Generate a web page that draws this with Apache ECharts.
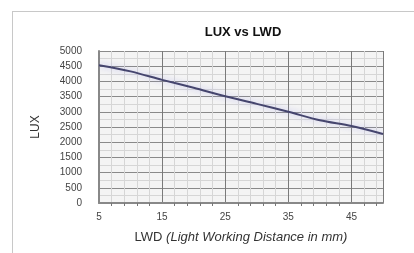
<!DOCTYPE html>
<html>
<head>
<meta charset="utf-8">
<script src="https://cdn.jsdelivr.net/npm/echarts@6/dist/echarts.min.js"></script>
<style>
  html, body { margin: 0; padding: 0; background: #fff; }
  #frame { position: absolute; left: 12px; top: 11px; width: 402px; height: 242px;
           border-top: 1px solid #c8c8c8; border-left: 1px solid #c8c8c8; }
  #main { position: absolute; left: 0; top: 0; width: 414px; height: 253px; }
</style>
</head>
<body>
<div id="frame"></div>
<div id="main"></div>
<script>
// LWD (mm) vs LUX
var lwd = [5, 10, 15, 20, 25, 30, 35, 40, 45, 50]
var lux = [4530, 4330, 4050, 3790, 3510, 3260, 3000, 2720, 2530, 2270]

var points = []
for (var i = 0; i < lwd.length; i++) {
  points.push([lwd[i], lux[i]])
}

var chart = echarts.init(document.getElementById('main'))
chart.setOption({
  animation: false,
  title: {
    text: 'LUX vs LWD',
    left: 238,
    textAlign: 'center',
    top: 21,
    textStyle: { fontFamily: 'Liberation Sans', fontSize: 13, fontWeight: 'bold', color: '#111' }
  },
  grid: {
    left: 99, right: 31, top: 51, bottom: 50,
    show: true, backgroundColor: '#f4f4f4', borderWidth: 0
  },
  xAxis: {
    type: 'value',
    min: 5, max: 50, interval: 10,
    name: '{a|LWD }{b|(Light Working Distance in mm)}',
    nameLocation: 'middle',
    nameGap: 28,
    nameTextStyle: {
      rich: {
        a: { fontFamily: 'Liberation Sans', fontSize: 13, color: '#333' },
        b: { fontFamily: 'Liberation Sans', fontSize: 13, fontStyle: 'italic', color: '#333' }
      }
    },
    axisLine: { show: true, lineStyle: { color: '#888', width: 2 } },
    axisTick: { show: false },
    minorTick: { show: true, splitNumber: 5, length: 3, lineStyle: { color: '#777' } },
    axisLabel: {
      showMaxLabel: false, margin: 9,
      fontFamily: 'Liberation Sans', fontSize: 10, color: '#444'
    },
    splitLine: { show: true, lineStyle: { color: '#7a7a7a', width: 1 } },
    minorSplitLine: { show: true, lineStyle: { color: '#d6d6d6', width: 1 } }
  },
  yAxis: {
    type: 'value',
    min: 0, max: 5000, interval: 500,
    name: 'LUX',
    nameLocation: 'middle',
    nameGap: 57,
    nameTextStyle: { fontFamily: 'Liberation Sans', fontSize: 12, color: '#333' },
    axisLine: { show: true, lineStyle: { color: '#888', width: 2 } },
    axisTick: { show: false },
    axisLabel: {
      margin: 17, fontFamily: 'Liberation Sans', fontSize: 10, color: '#444',
      formatter: function (v) { return String(v) }
    },
    splitLine: { show: true, lineStyle: { color: '#8a8a8a', width: 1 } },
    minorTick: { show: false, splitNumber: 2 },
    minorSplitLine: { show: true, lineStyle: { color: '#d6d6d6', width: 1 } }
  },
  series: [{
    type: 'line',
    data: points,
    showSymbol: false,
    smooth: 0.3,
    lineStyle: { color: '#45456e', width: 2, shadowColor: 'rgba(150,150,230,0.6)', shadowBlur: 6 }
  }]
})
</script>
</body>
</html>
